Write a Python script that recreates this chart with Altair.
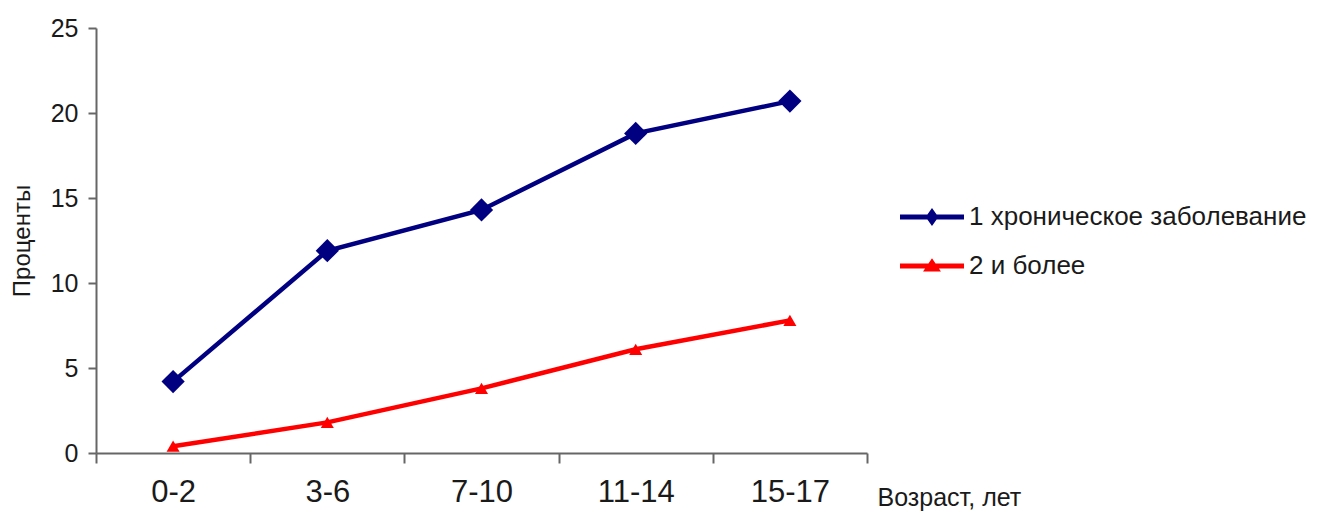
import altair as alt
import pandas as pd

ages = ["0-2", "3-6", "7-10", "11-14", "15-17"]
series_names = ["1 хроническое заболевание", "2 и более"]
one_chronic = [4.2, 11.9, 14.3, 18.8, 20.7]
two_or_more = [0.4, 1.8, 3.8, 6.1, 7.8]
colors = ["#000080", "#FF0000"]
shapes = ["diamond", "triangle-up"]
sizes = [540, 170]

rows = []
for a, v in zip(ages, one_chronic):
    rows.append({"age": a, "value": v, "series": series_names[0]})
for a, v in zip(ages, two_or_more):
    rows.append({"age": a, "value": v, "series": series_names[1]})
df = pd.DataFrame(rows)

FONT = "Liberation Sans"
TXT = "#1a1a1a"
AX = "#666666"

bar = "M-1,-0.075H1V0.075H-1Z"
diamond_path = bar + "M0,-0.28L0.2,0L0,0.28L-0.2,0Z"
tri_path = bar + "M0,-0.24L0.28,0.17L-0.28,0.17Z"

sym_expr = "datum.value === '" + series_names[0] + "' ? '" + diamond_path + "' : '" + tri_path + "'"
col_expr = "datum.value === '" + series_names[0] + "' ? '" + colors[0] + "' : '" + colors[1] + "'"


def make_legend():
    return alt.Legend(
        title=None,
        orient="none",
        legendX=804,
        legendY=157,
        labelFontSize=26,
        labelFont=FONT,
        labelColor=TXT,
        labelLimit=600,
        symbolSize=4096,
        symbolOpacity=1,
        symbolStrokeWidth=0,
        symbolType=alt.ExprRef(expr=sym_expr),
        symbolFillColor=alt.ExprRef(expr=col_expr),
        rowPadding=4,
        labelOffset=5,
    )


x_enc = alt.X(
    "age:N",
    sort=ages,
    scale=alt.Scale(paddingInner=0, paddingOuter=0),
    axis=alt.Axis(
        title="Возраст, лет",
        titleFontSize=25,
        titleFont=FONT,
        titleFontWeight="normal",
        titleColor=TXT,
        titleX=781,
        titleY=44,
        titleAlign="left",
        titleBaseline="middle",
        labelAngle=0,
        labelFontSize=31,
        labelFont=FONT,
        labelColor=TXT,
        labelPadding=14,
        tickBand="extent",
        tickSize=10,
        tickColor=AX,
        tickWidth=2,
        domainColor=AX,
        domainWidth=2,
        grid=False,
    ),
)
y_enc = alt.Y(
    "value:Q",
    scale=alt.Scale(domain=[0, 25], nice=False, zero=True),
    axis=alt.Axis(
        title="Проценты",
        titleFontSize=24,
        titleFont=FONT,
        titleFontWeight="normal",
        titleColor=TXT,
        titlePadding=16,
        values=[0, 5, 10, 15, 20, 25],
        labelFontSize=25,
        labelFont=FONT,
        labelColor=TXT,
        labelPadding=10,
        tickSize=8,
        tickColor=AX,
        tickWidth=2,
        domainColor=AX,
        domainWidth=2,
        grid=False,
    ),
)

color_scale = alt.Scale(domain=series_names, range=colors)

lines = alt.Chart(df).mark_line(strokeWidth=4.5).encode(
    x=x_enc,
    y=y_enc,
    color=alt.Color("series:N", scale=color_scale, sort=series_names, legend=make_legend()),
)

point_layers = []
for name, shp, sz in zip(series_names, shapes, sizes):
    point_layers.append(
        alt.Chart(df[df.series == name]).mark_point(
            filled=True, opacity=1, shape=shp, size=sz
        ).encode(
            x=alt.X("age:N", sort=ages),
            y="value:Q",
            color=alt.Color("series:N", scale=color_scale, sort=series_names, legend=make_legend()),
        )
    )

chart = (
    alt.layer(lines, *point_layers)
    .properties(
        width=771,
        height=425,
        background="white",
        autosize=alt.AutoSizeParams(type="none"),
        padding={"left": 88, "top": 20, "right": 450, "bottom": 58},
    )
    .configure_view(strokeWidth=0, stroke="transparent")
)

chart.save("out.html", embed_options={"renderer": "svg", "actions": False})
